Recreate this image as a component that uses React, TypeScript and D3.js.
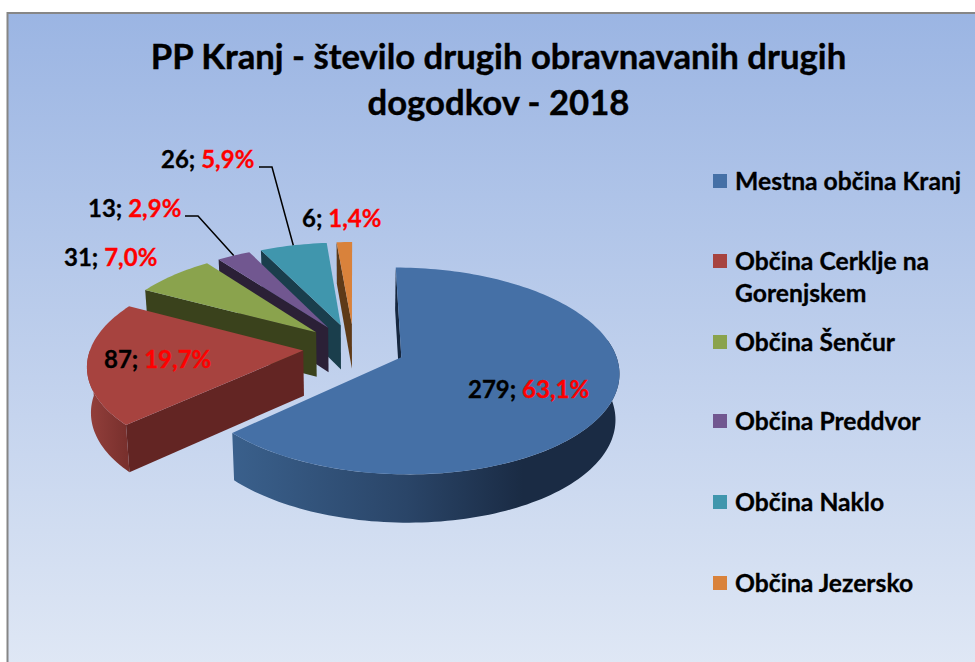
import React from "react";
import * as d3 from "d3";

const categories = ["Mestna občina Kranj", "Občina Cerklje na Gorenjskem", "Občina Šenčur", "Občina Preddvor", "Občina Naklo", "Občina Jezersko"];
const legendLines = [["Mestna občina Kranj"], ["Občina Cerklje na", "Gorenjskem"], ["Občina Šenčur"], ["Občina Preddvor"], ["Občina Naklo"], ["Občina Jezersko"]];
const values = [279, 87, 31, 13, 26, 6];
const percents = ["63,1%", "19,7%", "7,0%", "2,9%", "5,9%", "1,4%"];
const topColors = ["#4570A6", "#A7433F", "#8AA34D", "#715790", "#4096AD", "#D9823B"];
const faceColors = ["#16273F", "#632523", "#3A421C", "#2B2036", "#1A3E4C", "#5E3A18"];
const wallStops = [
  [["0", "#3A608C"], ["0.45", "#2A4568"], ["0.75", "#1A2B44"], ["1", "#1A2B44"]],
  [["0", "#94403C"], ["1", "#79302D"]],
];
const labelX = [468, 104, 64, 88, 161, 302];
const labelY = [398, 368, 266, 217, 168, 227];
const legendRowY = [181, 261, 342, 421, 502, 583];
const leaderElbows = [null, null, null, [[185, 216], [198, 216]], [[259, 167], [272, 167]], null];

const W = 975, H = 662;
const cx = 354, cy = 347.5, Rx = 212.5, Ry = 99, persp = 0.132, explode = 0.24;
const depthBase = 45, depthVar = 3, shrink = 0.015;

function project(u: number, v: number, z = 0): [number, number] {
  const s = 1 / (1 - persp * v);
  return [cx + Rx * u * s * (1 - shrink * z), cy + Ry * v * s + z * (depthBase + depthVar * v)];
}

export default function App() {
  const slices = d3.pie<number>().sort(null)(values);
  const line = d3.line();
  const deg = Math.PI / 180;

  const pieces = slices.map((s, i) => {
    const mid = (s.startAngle + s.endAngle) / 2;
    const ox = explode * Math.sin(mid), oy = -explode * Math.cos(mid);
    const rim = (t: number, z = 0, r = 1) => project(ox + r * Math.sin(t), oy - r * Math.cos(t), z);
    const arcAngles = (a: number, b: number) => {
      const n = Math.max(2, Math.ceil((b - a) / (1.5 * deg)));
      return d3.range(n + 1).map(k => a + ((b - a) * k) / n);
    };
    const apex = project(ox, oy), apexB = project(ox, oy, 1);
    const top = line([apex, ...arcAngles(s.startAngle, s.endAngle).map(t => rim(t))])! + "Z";
    const face = line([apex, rim(s.startAngle), rim(s.startAngle, 1), apexB])! + "Z";
    const wa = Math.max(s.startAngle, 80 * deg), wb = Math.min(s.endAngle, 270 * deg);
    let wall: string | null = null;
    let wallRange: [number, number] = [0, 0];
    if (wb > wa) {
      const ang = arcAngles(wa, wb);
      wall = line([...ang.map(t => rim(t)), ...ang.slice().reverse().map(t => rim(t, 1))])! + "Z";
      const xs = ang.map(t => rim(t)[0]);
      wallRange = [d3.min(xs)!, d3.max(xs)!];
    }
    const lead = rim(mid);
    return { i, top, face, wall, wallRange, lead };
  });

  const order = [5, 4, 3, 2, 1, 0];
  const bgScale = d3.scaleLinear<string>().domain([0, 1]).range(["#9BB5E3", "#E0E8F5"]);

  return (
    <svg width={W} height={H} style={{ position: "absolute", left: 0, top: 0, display: "block" }} fontFamily="Lato, Carlito, sans-serif" fontWeight="700">
      <defs>
        <linearGradient id="bg" x1="0" y1="0" x2="0" y2="1">
          <stop offset="0" stopColor={bgScale(0)} />
          <stop offset="1" stopColor={bgScale(1)} />
        </linearGradient>
        {pieces.filter(p => p.wall).map(p => (
          <linearGradient key={p.i} id={`wall${p.i}`} gradientUnits="userSpaceOnUse" x1={p.wallRange[0]} x2={p.wallRange[1]} y1="0" y2="0">
            {wallStops[p.i].map(([o, c]) => <stop key={o} offset={o} stopColor={c} />)}
          </linearGradient>
        ))}
      </defs>
      <rect x="0" y="0" width={W} height={H} fill="#fff" />
      <rect x="7.5" y="13" width={W} height={H} fill="url(#bg)" stroke="#868686" strokeWidth="2" />
      <g stroke="#000" strokeWidth="0.4">
        <text x="498.5" y="69" textAnchor="middle" fontSize="34.7" fill="#000">PP Kranj - število drugih obravnavanih drugih</text>
        <text x="498.5" y="115" textAnchor="middle" fontSize="34.7" fill="#000">dogodkov - 2018</text>
      </g>

      {order.map(i => {
        const p = pieces[i];
        return (
          <g key={i}>
            <path d={p.face} fill={faceColors[i]} />
            {p.wall && <path d={p.wall} fill={`url(#wall${i})`} />}
            <path d={p.top} fill={topColors[i]} />
          </g>
        );
      })}

      {pieces.map(p => {
        const e = leaderElbows[p.i];
        return e ? <path key={p.i} d={line([...(e as [number, number][]), p.lead])!} fill="none" stroke="#000" strokeWidth="1.5" /> : null;
      })}

      {values.map((v, i) => (
        <text key={i} x={labelX[i]} y={labelY[i]} fontSize="24" strokeWidth="0.3">
          <tspan fill="#000" stroke="#000">{v}; </tspan>
          <tspan fill="#FF0000" stroke="#FF0000">{percents[i]}</tspan>
        </text>
      ))}

      {categories.map((c, i) => (
        <g key={c}>
          <rect x="713" y={legendRowY[i] - 7} width="14" height="14" fill={topColors[i]} />
          {legendLines[i].map((t, k) => (
            <text key={t} x="735" y={legendRowY[i] + 9 + k * 32} fontSize="24.7" fill="#000" stroke="#000" strokeWidth="0.3">{t}</text>
          ))}
        </g>
      ))}
    </svg>
  );
}
